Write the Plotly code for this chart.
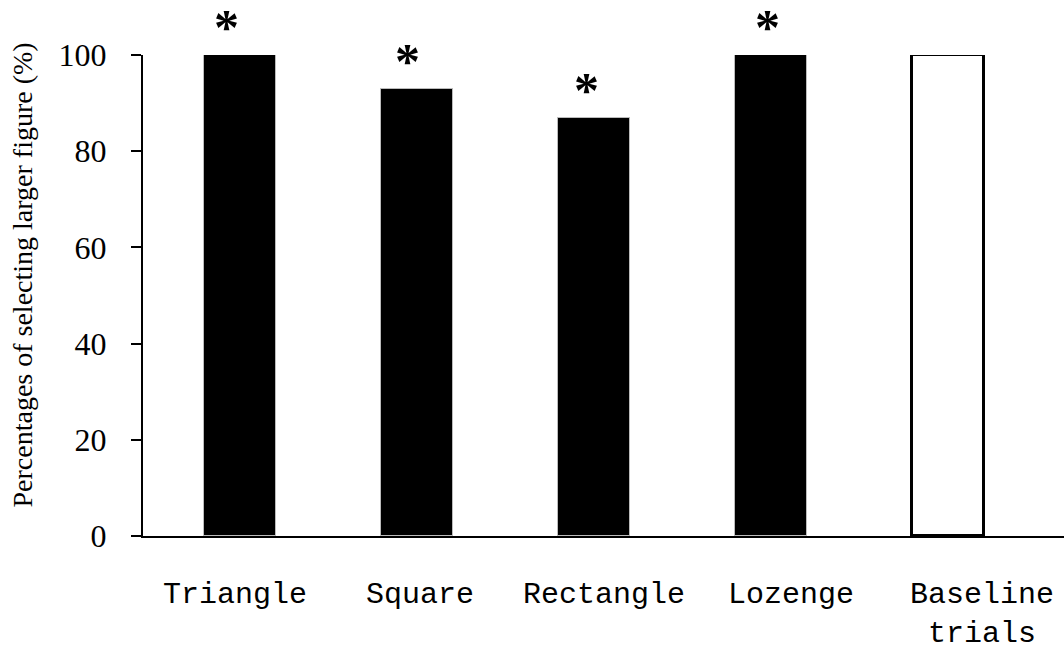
import plotly.graph_objects as go

categories = ["Triangle", "Square", "Rectangle", "Lozenge", "Baseline<br>trials"]
percentages = [100, 93, 87, 100, 100]
significant = [True, True, True, True, False]
y_ticks = [0, 20, 40, 60, 80, 100]
y_title = "Percentages of selecting larger figure (%)"

x_pos = list(range(len(categories)))
fills = ["black", "black", "black", "black", "white"]
line_colors = ["#bbbbbb", "#bbbbbb", "#bbbbbb", "#bbbbbb", "black"]
line_widths = [1, 1, 1, 1, 3]
label_shift = [-5, 3, 10, 20, 34]
star_shift = [-14, -10, -8, -4, 0]

fig = go.Figure()
fig.add_trace(go.Bar(
    x=x_pos, y=percentages, width=0.41,
    marker=dict(color=fills, line=dict(color=line_colors, width=line_widths)),
    showlegend=False, hoverinfo="skip",
))

for x, y, s, sh in zip(x_pos, percentages, significant, star_shift):
    if s:
        fig.add_annotation(x=x, y=y, text="<b>*</b>", showarrow=False, xshift=sh,
                           yanchor="middle", yshift=28,
                           font=dict(family="Liberation Serif", size=50, color="black"))

for x, lab, sh in zip(x_pos, categories, label_shift):
    fig.add_annotation(x=x, y=0, yref="y", text=lab, showarrow=False,
                       xshift=sh, yanchor="top", yshift=-40,
                       font=dict(family="Liberation Mono", size=30, color="black"))

fig.add_annotation(x=0, xref="paper", xanchor="center", xshift=-121,
                   y=0.5, yref="paper", yanchor="middle", yshift=20,
                   text=y_title, textangle=-90, showarrow=False,
                   font=dict(family="Liberation Serif", size=28, color="black"))

fig.update_layout(
    width=1064, height=653,
    margin=dict(l=143, r=0, t=55, b=117),
    paper_bgcolor="white", plot_bgcolor="white",
    bargap=0,
    xaxis=dict(range=[-0.548, 4.655], showticklabels=False, ticks="",
               showline=True, linecolor="black", linewidth=2,
               showgrid=False, zeroline=False, fixedrange=True),
    yaxis=dict(range=[0, 100], tickvals=y_ticks, ticks="outside", ticklen=10,
               tickwidth=2, tickcolor="black", ticklabelstandoff=18,
               showline=True, linecolor="black", linewidth=2,
               showgrid=False, zeroline=False, fixedrange=True,
               tickfont=dict(family="Liberation Serif", size=32, color="black")),
)

fig.write_html("out.html", config={"displayModeBar": False},
               post_script="document.body.style.margin='0';document.body.style.overflow='hidden';")
